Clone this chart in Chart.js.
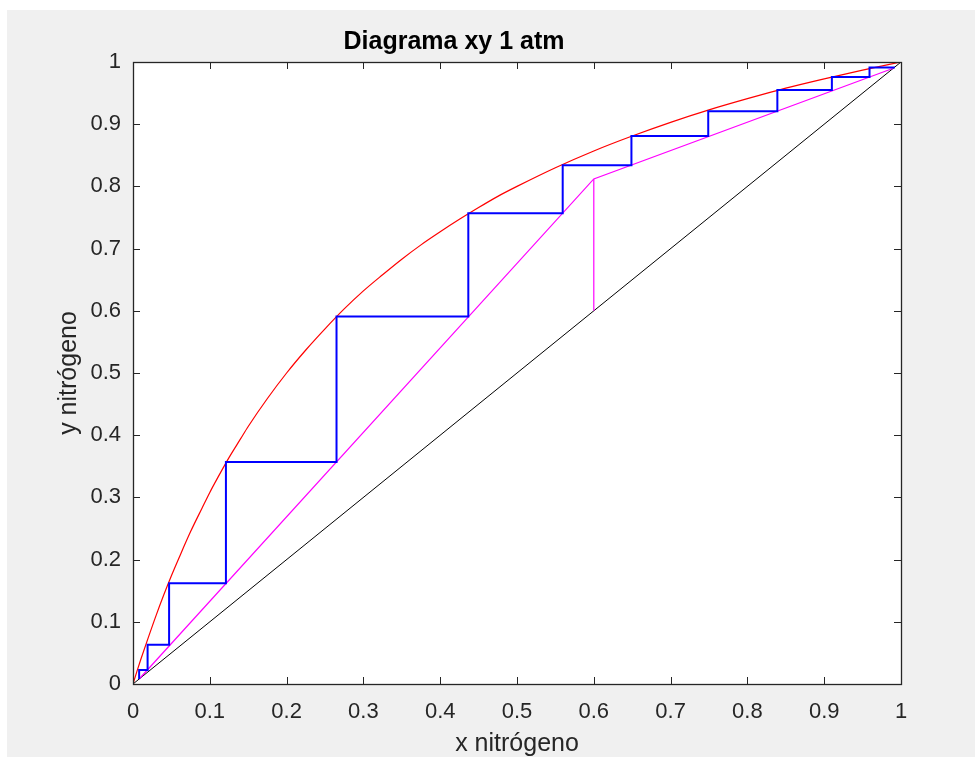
<!DOCTYPE html>
<html>
<head>
<meta charset="utf-8">
<script src="https://cdn.jsdelivr.net/npm/chart.js@4"></script>
<style>
  html, body { margin: 0; padding: 0; background: #ffffff; }
  #wrap { position: absolute; left: 7px; top: 10px; width: 968px; height: 747px; background: #f0f0f0; }
</style>
</head>
<body>
<div id="wrap"><canvas id="graph" width="968" height="747"></canvas></div>
<script>
// equilibrium curve (red)
const eqX = [0, 0.005, 0.01, 0.02, 0.03, 0.04, 0.05, 0.06, 0.075, 0.09, 0.1, 0.11, 0.125, 0.14, 0.15, 0.175, 0.2, 0.225, 0.25, 0.275, 0.3, 0.325, 0.35, 0.375, 0.4, 0.425, 0.45, 0.475, 0.5, 0.55, 0.6, 0.65, 0.7, 0.75, 0.8, 0.85, 0.9, 0.95, 1];
const eqY = [0, 0.020, 0.039, 0.075, 0.110, 0.143, 0.174, 0.203, 0.245, 0.283, 0.308, 0.331, 0.364, 0.394, 0.414, 0.459, 0.5, 0.537, 0.571, 0.603, 0.632, 0.658, 0.683, 0.706, 0.727, 0.747, 0.766, 0.784, 0.8, 0.830, 0.857, 0.881, 0.903, 0.923, 0.941, 0.958, 0.973, 0.987, 1];

// operating lines (magenta)
const opX = [0.008, 0.6, 0.99];
const opY = [0.008, 0.812, 0.99];
// feed line (magenta, vertical)
const qX = [0.6, 0.6];
const qY = [0.6, 0.812];

// diagonal y = x (black)
const diagX = [0, 1];
const diagY = [0, 1];

// stages (blue staircase)
const stageX = [0.992, 0.959, 0.959, 0.91, 0.91, 0.839, 0.839, 0.749, 0.749, 0.649, 0.649, 0.5595, 0.5595, 0.4366, 0.4366, 0.265, 0.265, 0.121, 0.121, 0.047, 0.047, 0.019, 0.019, 0.008, 0.008];
const stageY = [0.991, 0.991, 0.976, 0.976, 0.955, 0.955, 0.921, 0.921, 0.881, 0.881, 0.834, 0.834, 0.757, 0.757, 0.591, 0.591, 0.357, 0.357, 0.162, 0.162, 0.063, 0.063, 0.0225, 0.0225, 0.008];

const tickVals = [0, 0.1, 0.2, 0.3, 0.4, 0.5, 0.6, 0.7, 0.8, 0.9, 1];

function toPoints(xs, ys) {
    return xs.map((x, i) => ({ x: x, y: ys[i] }));
}

const axisColor = '#262626';
const fontFamily = '"Liberation Sans", Arial, Helvetica, sans-serif';

// white plot area, grey figure, box with inward ticks like the original
const boxPlugin = {
    id: 'box',
    beforeDraw(chart) {
        const { ctx, chartArea: a } = chart;
        ctx.save();
        ctx.fillStyle = '#f0f0f0';
        ctx.fillRect(0, 0, chart.width, chart.height);
        ctx.fillStyle = '#ffffff';
        ctx.fillRect(a.left, a.top, a.right - a.left, a.bottom - a.top);
        ctx.restore();
    },
    afterDatasetsDraw(chart) {
        const { ctx, chartArea: a, scales } = chart;
        const len = 7;
        ctx.save();
        ctx.strokeStyle = axisColor;
        ctx.lineWidth = 1;
        ctx.beginPath();
        tickVals.forEach(v => {
            const px = Math.round(scales.x.getPixelForValue(v)) + 0.5;
            ctx.moveTo(px, a.bottom); ctx.lineTo(px, a.bottom - len);
            ctx.moveTo(px, a.top); ctx.lineTo(px, a.top + len);
            const py = Math.round(scales.y.getPixelForValue(v)) + 0.5;
            ctx.moveTo(a.left, py); ctx.lineTo(a.left + len, py);
            ctx.moveTo(a.right, py); ctx.lineTo(a.right - len, py);
        });
        ctx.stroke();
        ctx.lineWidth = 1.3;
        ctx.strokeRect(Math.round(a.left) + 0.5, Math.round(a.top) + 0.5, Math.round(a.right - a.left), Math.round(a.bottom - a.top));
        ctx.restore();
    }
};

const ctx = document.getElementById('graph').getContext('2d');
new Chart(ctx, {
    type: 'scatter',
    data: {
        datasets: [
            { data: toPoints(stageX, stageY), borderColor: '#0000ff', borderWidth: 2 },
            { data: toPoints(eqX, eqY), borderColor: '#ff0000', borderWidth: 1.2, cubicInterpolationMode: 'monotone' },
            { data: toPoints(opX, opY), borderColor: '#ff00ff', borderWidth: 1.2 },
            { data: toPoints(qX, qY), borderColor: '#ff00ff', borderWidth: 1.2 },
            { data: toPoints(diagX, diagY), borderColor: '#000000', borderWidth: 1 }
        ].map(ds => Object.assign({
            showLine: true,
            tension: 0,
            pointRadius: 0,
            pointHoverRadius: 0,
            fill: false
        }, ds))
    },
    options: {
        responsive: false,
        animation: false,
        devicePixelRatio: 1,
        layout: { padding: { left: 0, right: 74, top: 0, bottom: 0 } },
        plugins: {
            legend: { display: false },
            tooltip: { enabled: false },
            title: {
                display: true,
                text: 'Diagrama xy 1 atm',
                color: '#000000',
                font: { family: fontFamily, size: 25, weight: 'bold', lineHeight: 1.2 },
                padding: { top: 17, bottom: 5 }
            }
        },
        scales: {
            x: {
                type: 'linear',
                min: 0,
                max: 1,
                afterBuildTicks: scale => { scale.ticks = tickVals.map(v => ({ value: v })); },
                afterFit: scale => { scale.height = 73; },
                grid: { display: false, drawTicks: false },
                border: { display: false },
                ticks: {
                    color: axisColor,
                    padding: 15,
                    maxRotation: 0,
                    font: { family: fontFamily, size: 22 },
                    callback: v => String(Number(v.toFixed(1)))
                },
                title: {
                    display: true,
                    text: 'x nitrógeno',
                    color: axisColor,
                    font: { family: fontFamily, size: 25, lineHeight: 1.0 },
                    padding: { top: 0, bottom: 0 }
                }
            },
            y: {
                type: 'linear',
                min: 0,
                max: 1,
                afterBuildTicks: scale => { scale.ticks = tickVals.map(v => ({ value: v })); },
                afterFit: scale => { scale.width = 126; },
                grid: { display: false, drawTicks: false },
                border: { display: false },
                ticks: {
                    color: axisColor,
                    padding: 12,
                    font: { family: fontFamily, size: 22 },
                    callback: v => String(Number(v.toFixed(1)))
                },
                title: {
                    display: true,
                    text: 'y nitrógeno',
                    color: axisColor,
                    font: { family: fontFamily, size: 25, lineHeight: 1.2 },
                    padding: { top: 47, bottom: 0 }
                }
            }
        }
    },
    plugins: [boxPlugin]
});
</script>
</body>
</html>
